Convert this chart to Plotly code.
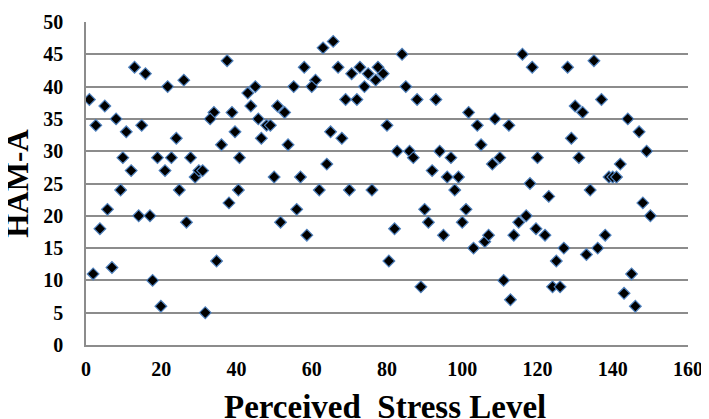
import plotly.graph_objects as go

stress = [0.9, 5, 2.6, 8, 10.7, 14.8, 12.9, 15.8, 21.7, 26, 37.5, 24, 34, 33, 38.8, 39.6, 36,
          9.8, 19, 22.7, 27.8, 12, 21, 29, 30, 31, 40.8, 9.2, 24.8, 40.5, 5.7, 38, 14, 17,
          3.7, 26.7, 34.7, 1.9, 6.9, 17.7, 19.9, 31.7,
          43, 45, 43.8, 45.8, 48, 49, 46.6, 50.9, 52.8, 53.7, 55.2, 58, 61, 60, 63, 65.7,
          65, 68, 67, 69, 72, 70.6, 72.8, 75, 74, 77.6, 77, 79, 80, 50, 57, 64,
          62, 70, 76, 56, 51.7, 58.7, 80.5,
          84, 85, 88, 93, 82.7, 86, 87, 92, 94, 97, 96, 99, 101.7, 104, 105, 108.7, 112.4,
          108, 110, 116, 118.6, 118, 120,
          98, 90, 101, 91, 100, 82, 95, 89, 103, 106, 107, 113.7, 115, 117, 119.6, 111, 112.8,
          128, 135, 130, 132, 137, 129, 131, 144, 147, 149, 142, 139, 140, 141,
          134, 123, 122, 127, 125, 124, 126, 133, 136, 138, 148, 150, 145, 143, 146]
ham_a = [38, 37, 34, 35, 33, 34, 43, 42, 40, 41, 44, 32, 36, 35, 36, 33, 31,
         29, 29, 29, 29, 27, 27, 26, 27, 27, 29, 24, 24, 24, 21, 22, 20, 20,
         18, 19, 13, 11, 12, 10, 6, 5,
         39, 40, 37, 35, 34, 34, 32, 37, 36, 31, 40, 43, 41, 40, 46, 47,
         33, 32, 43, 38, 38, 42, 43, 42, 40, 43, 41, 42, 34, 26, 26, 28,
         24, 24, 24, 21, 19, 17, 13,
         45, 40, 38, 38, 30, 30, 29, 27, 30, 29, 26, 26, 36, 34, 31, 35, 34,
         28, 29, 45, 43, 25, 29,
         24, 21, 21, 19, 19, 18, 17, 9, 15, 16, 17, 17, 19, 20, 18, 10, 7,
         43, 44, 37, 36, 38, 32, 29, 35, 33, 30, 28, 26, 26, 26,
         24, 23, 17, 15, 13, 9, 9, 14, 15, 17, 22, 20, 11, 8, 6]

x_ticks = [0, 20, 40, 60, 80, 100, 120, 140, 160]
y_ticks = [0, 5, 10, 15, 20, 25, 30, 35, 40, 45, 50]
x_title = "Perceived  Stress Level"
y_title = "HAM-A"

serif = "Liberation Serif, Times New Roman, serif"

fig = go.Figure(go.Scatter(
    x=stress, y=ham_a, mode="markers",
    marker=dict(symbol="diamond", size=9, color="black",
                line=dict(color="#4F81BD", width=1.2)),
    showlegend=False,
))

fig.update_layout(
    width=701, height=411,
    margin=dict(l=78, r=21, t=14, b=74),
    paper_bgcolor="white", plot_bgcolor="white",
    font=dict(family=serif, color="black"),
)
fig.update_xaxes(
    range=[0, 160], tickvals=x_ticks, ticktext=[str(v) for v in x_ticks],
    showgrid=False, zeroline=False, showline=True, linecolor="#8c8c8c", linewidth=1.5,
    ticks="", ticklabelstandoff=5, automargin=False,
    tickfont=dict(family=serif, size=20, weight="bold"),
)
fig.update_yaxes(
    range=[0, 50], tickvals=y_ticks, ticktext=[str(v) for v in y_ticks],
    showgrid=True, gridcolor="#8c8c8c", gridwidth=1.5,
    zeroline=False, showline=True, linecolor="#8c8c8c", linewidth=1.5,
    ticks="", ticklabelstandoff=17, automargin=False,
    tickfont=dict(family=serif, size=20, weight="bold"),
)
fig.add_annotation(
    text=x_title, xref="paper", yref="paper", x=0.497, y=-0.193,
    xanchor="center", yanchor="middle", showarrow=False,
    font=dict(family=serif, size=33, weight="bold", color="black"),
)
fig.add_annotation(
    text=y_title, xref="paper", yref="paper", x=-0.114, y=0.5,
    xanchor="center", yanchor="middle", showarrow=False, textangle=-90,
    font=dict(family=serif, size=31, weight="bold", color="black"),
)

fig.write_html("out.html")
